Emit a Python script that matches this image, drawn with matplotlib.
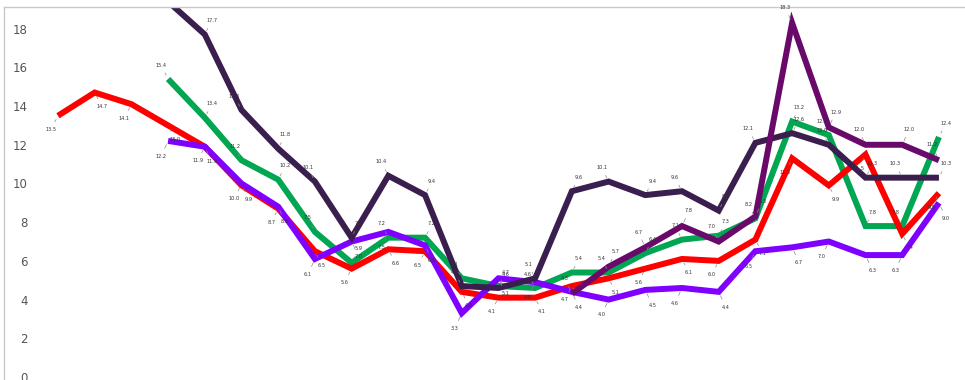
import numpy as np
import matplotlib.pyplot as plt

# 25 periods along the x axis, no tick labels shown
periods = list(range(25))

red_vals = [13.5, 14.7, 14.1, 13.0, 11.9, 9.9, 8.7, 6.5, 5.6, 6.6, 6.5, 4.4, 4.1,
            4.1, 4.7, 5.1, 5.6, 6.1, 6.0, 7.1, 11.3, 9.9, 11.5, 7.4, 9.5]
violet_vals = [None, None, None, 12.2, 11.9, 10.0, 8.8, 6.1, 7.0, 7.5, 6.8, 3.3, 5.1,
               4.9, 4.4, 4.0, 4.5, 4.6, 4.4, 6.5, 6.7, 7.0, 6.3, 6.3, 9.0]
green_vals = [None, None, None, 15.4, 13.4, 11.2, 10.2, 7.5, 5.9, 7.2, 7.2, 5.1, 4.7,
              4.6, 5.4, 5.4, 6.4, 7.1, 7.3, 8.2, 13.2, 12.5, 7.8, 7.8, 12.4]
dark_vals = [None, None, None, 19.4, 17.7, 13.8, 11.8, 10.1, 7.2, 10.4, 9.4, 4.7, 4.6,
             5.1, 9.6, 10.1, 9.4, 9.6, 8.6, 12.1, 12.6, 12.0, 10.3, 10.3, 10.3]
plum_vals = [None] * 14 + [4.3, 5.7, 6.7, 7.8, 7.0, 8.3, 18.3, 12.9, 12.0, 12.0, 11.2]

y_ticks = [0, 2, 4, 6, 8, 10, 12, 14, 16, 18]

fig = plt.figure(figsize=(9.65, 3.8), dpi=100)
ax = fig.add_axes([4 / 965, 0, 961 / 965, 373 / 380])

series = [
    (green_vals, '#00a651', 10),
    (red_vals, '#ff0000', -10),
    (violet_vals, '#7f00ff', -11),
    (dark_vals, '#3a1f4e', 10),
    (plum_vals, '#690a6b', 11),
]

for vals, col, off in series:
    xs = [p for p, v in zip(periods, vals) if v is not None]
    ys = [v for v in vals if v is not None]
    ax.plot(xs, ys, color=col, lw=4.3, solid_joinstyle='miter', solid_capstyle='butt')
    for k, (x, y) in enumerate(zip(xs, ys)):
        dx = -5 if k % 2 == 0 else 5
        ax.annotate(f'{y:.1f}', (x, y), xytext=(dx, off), textcoords='offset points',
                    fontsize=3.6, color='#333333', ha='center', va='center',
                    arrowprops=dict(arrowstyle='-', color='#8a8a8a', lw=0.5,
                                    shrinkA=2, shrinkB=3),
                    annotation_clip=True)

ax.set_xlim(-1.47, 24.71)
ax.set_ylim(-0.155, 19.12)
ax.set_xticks([])
ax.set_yticks(y_ticks)
ax.tick_params(axis='y', length=0, pad=-17, labelsize=8.5, labelcolor='#555555')
for lbl in ax.get_yticklabels():
    lbl.set_horizontalalignment('right')

for side in ['right', 'bottom']:
    ax.spines[side].set_visible(False)
for side in ['left', 'top']:
    ax.spines[side].set_color('#c8c8c8')
    ax.spines[side].set_linewidth(1)

fig.savefig('out.png', dpi=100)
